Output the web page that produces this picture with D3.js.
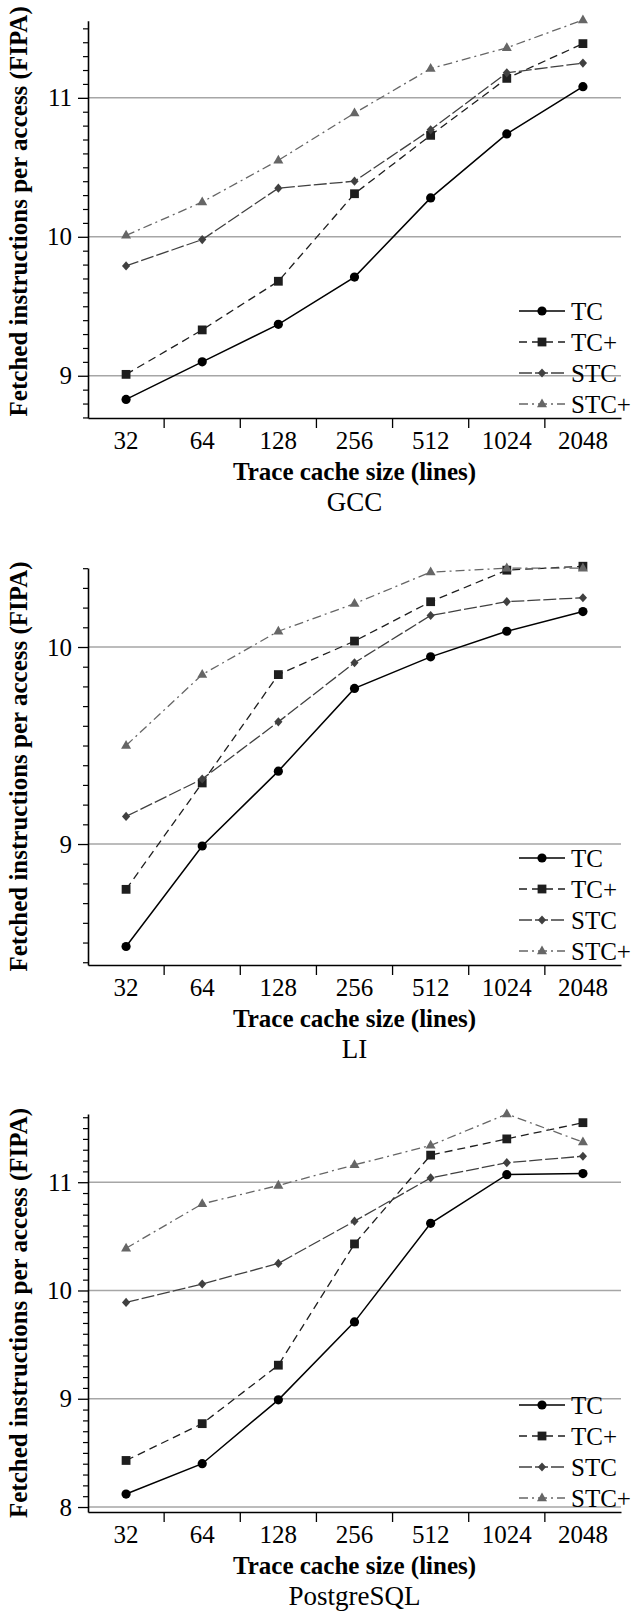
<!DOCTYPE html>
<html>
<head>
<meta charset="utf-8">
<script src="https://cdn.jsdelivr.net/npm/d3@7"></script>
<style>
  body { margin: 0; background: #fff; }
  svg text { font-family: "Liberation Serif", "Times New Roman", Times, serif; }
</style>
</head>
<body>
<div id="chart"></div>
<script>
// categories and series names
const sizes = ["32", "64", "128", "256", "512", "1024", "2048"];
const seriesNames = ["TC", "TC+", "STC", "STC+"];
const benchNames = ["GCC", "LI", "PostgreSQL"];

// GCC
const gccTC    = [8.83, 9.10, 9.37, 9.71, 10.28, 10.74, 11.08];
const gccTCp   = [9.01, 9.33, 9.68, 10.31, 10.73, 11.14, 11.39];
const gccSTC   = [9.79, 9.98, 10.35, 10.40, 10.77, 11.18, 11.25];
const gccSTCp  = [10.01, 10.25, 10.55, 10.89, 11.21, 11.36, 11.56];
// LI
const liTC     = [8.48, 8.99, 9.37, 9.79, 9.95, 10.08, 10.18];
const liTCp    = [8.77, 9.31, 9.86, 10.03, 10.23, 10.39, 10.41];
const liSTC    = [9.14, 9.33, 9.62, 9.92, 10.16, 10.23, 10.25];
const liSTCp   = [9.50, 9.86, 10.08, 10.22, 10.38, 10.40, 10.40];
// PostgreSQL
const pgTC     = [8.12, 8.40, 8.99, 9.71, 10.62, 11.07, 11.08];
const pgTCp    = [8.43, 8.77, 9.31, 10.43, 11.25, 11.40, 11.55];
const pgSTC    = [9.89, 10.06, 10.25, 10.64, 11.04, 11.18, 11.24];
const pgSTCp   = [10.39, 10.80, 10.97, 11.16, 11.34, 11.63, 11.37];

// y axis extents and labelled ticks per panel
const yExtents = [[8.696, 11.555], [8.386, 10.401], [7.954, 11.63]];
const yTicks = [[9, 10, 11], [9, 10], [8, 9, 10, 11]];

const panelData = [
    [gccTC, gccTCp, gccSTC, gccSTCp],
    [liTC, liTCp, liSTC, liSTCp],
    [pgTC, pgTCp, pgSTC, pgSTCp]
];

// layout
const svgWidth = 634;
const svgHeight = 1615;
const plotLeft = 88;
const plotRight = 621;
const panelTop = [20.7, 568, 1114];
const panelBottom = [418, 965, 1512];
const serif = '"Liberation Serif", "Times New Roman", Times, serif';

// series styles
const styles = [
    {color: "#000", dash: null, width: 1.5, symbol: "circle"},
    {color: "#1e1e1e", dash: "8,5", width: 1.3, symbol: "square"},
    {color: "#404040", dash: "13,3", width: 1.3, symbol: "diamond"},
    {color: "#666", dash: "9,4,2,4", width: 1.3, symbol: "triangle"}
];

const shapes = {
    square: "M-4.4,-4.4H4.4V4.4H-4.4Z",
    diamond: "M0,-4.6L4.1,0L0,4.6L-4.1,0Z",
    triangle: "M0,-5.6L5,3.2H-5Z"
};

const svg = d3.select("#chart")
    .append("svg")
    .attr("width", svgWidth)
    .attr("height", svgHeight);

const x = d3.scaleBand()
    .domain(sizes)
    .range([plotLeft, plotRight])
    .padding(0);
const cx = d => x(d) + x.bandwidth() / 2;

function drawMarker(g, st, px, py) {
    if (st.symbol === "circle") {
        g.append("circle")
            .attr("cx", px).attr("cy", py).attr("r", 4.6)
            .attr("fill", st.color);
    } else {
        g.append("path")
            .attr("d", shapes[st.symbol])
            .attr("transform", `translate(${px},${py})`)
            .attr("fill", st.color);
    }
}

panelData.forEach((series, p) => {
    const top = panelTop[p];
    const bottom = panelBottom[p];
    const [lo, hi] = yExtents[p];

    const y = d3.scaleLinear().domain([lo, hi]).range([bottom, top]);
    const g = svg.append("g");

    // gridlines
    g.selectAll(".grid")
        .data(yTicks[p])
        .enter()
        .append("line")
        .attr("x1", plotLeft).attr("x2", plotRight)
        .attr("y1", d => y(d)).attr("y2", d => y(d))
        .attr("stroke", "#a6a6a6")
        .attr("stroke-width", 1.5);

    // minor ticks every 0.1
    const minor = d3.range(Math.ceil(lo * 10), Math.floor(hi * 10) + 1)
        .map(v => v / 10)
        .filter(v => Math.abs(v - Math.round(v)) > 1e-6);
    const minorAxis = g.append("g")
        .attr("transform", `translate(${plotLeft},0)`)
        .call(d3.axisLeft(y).tickValues(minor).tickSize(5).tickFormat(""));
    minorAxis.select(".domain").remove();
    minorAxis.selectAll("line").attr("stroke-width", 1.2);

    // y axis
    const yAxis = g.append("g")
        .attr("transform", `translate(${plotLeft},0)`)
        .call(d3.axisLeft(y).tickValues(yTicks[p]).tickSize(10).tickSizeOuter(0).tickPadding(6).tickFormat(d3.format("d")))
        .attr("font-family", serif);
    yAxis.select(".domain").attr("stroke-width", 1.6);
    yAxis.selectAll("line").attr("stroke-width", 1.3);
    yAxis.selectAll("text")
        .attr("font-size", 25)
        .attr("fill", "#000");

    // x axis
    const xAxis = g.append("g")
        .attr("transform", `translate(0,${bottom})`)
        .call(d3.axisBottom(x).tickSize(0).tickSizeOuter(0))
        .attr("font-family", serif);
    xAxis.select(".domain").attr("stroke-width", 1.6);
    xAxis.selectAll("text")
        .attr("y", 31)
        .attr("dy", "0")
        .attr("font-size", 25)
        .attr("fill", "#000");
    // tick marks between bands
    g.selectAll(".btick")
        .data(sizes.slice(1))
        .enter()
        .append("line")
        .attr("x1", d => x(d)).attr("x2", d => x(d))
        .attr("y1", bottom).attr("y2", bottom + 10)
        .attr("stroke", "#000")
        .attr("stroke-width", 1.3);

    // series lines
    const line = d3.line()
        .x((d, i) => cx(sizes[i]))
        .y(d => y(d));
    series.forEach((vals, s) => {
        const st = styles[s];
        g.append("path")
            .datum(vals)
            .attr("d", line)
            .attr("fill", "none")
            .attr("stroke", st.color)
            .attr("stroke-width", st.width)
            .attr("stroke-dasharray", st.dash);
    });
    series.forEach((vals, s) => {
        vals.forEach((v, i) => drawMarker(g, styles[s], cx(sizes[i]), y(v)));
    });

    // legend
    const legend = g.append("g");
    seriesNames.forEach((name, s) => {
        const st = styles[s];
        const ly = bottom - 107 + s * 31;
        legend.append("line")
            .attr("x1", 519).attr("x2", 565)
            .attr("y1", ly).attr("y2", ly)
            .attr("stroke", st.color)
            .attr("stroke-width", st.width)
            .attr("stroke-dasharray", st.dash);
        drawMarker(legend, st, 542, ly);
        legend.append("text")
            .attr("x", 571)
            .attr("y", ly)
            .attr("dy", "0.35em")
            .attr("font-size", 25)
            .attr("fill", "#000")
            .text(name);
    });

    // axis titles
    g.append("text")
        .attr("x", (plotLeft + plotRight) / 2)
        .attr("y", bottom + 62)
        .attr("text-anchor", "middle")
        .attr("font-size", 25)
        .attr("font-weight", "bold")
        .text("Trace cache size (lines)");

    g.append("text")
        .attr("x", (plotLeft + plotRight) / 2)
        .attr("y", bottom + 93)
        .attr("text-anchor", "middle")
        .attr("font-size", 27)
        .text(benchNames[p]);

    g.append("text")
        .attr("transform", `translate(27,${(top + bottom) / 2 - (p === 0 ? 8 : 0)}) rotate(-90)`)
        .attr("text-anchor", "middle")
        .attr("font-size", 25)
        .attr("font-weight", "bold")
        .text("Fetched instructions per access (FIPA)");
});
</script>
</body>
</html>
